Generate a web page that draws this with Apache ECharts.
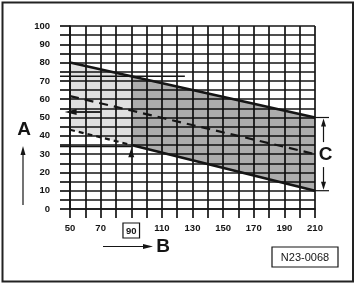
<!DOCTYPE html>
<html><head><meta charset="utf-8">
<script src="https://cdn.jsdelivr.net/npm/echarts@6/dist/echarts.min.js"></script>
<style>html,body{margin:0;padding:0;background:#fff}#c{width:357px;height:283px}</style>
</head><body><div id="c"></div>
<script>
// ---- data ----
const bValues = [50, 90, 210];          // B (x) break points
const upperA  = [80, 72.5, 50];         // upper limit of A
const middleA = [61.7, 53.8, 30];       // mean line (dashed)
const lowerA  = [43.3, 35, 10];         // lower limit of A
const xTickLabels = [50, 70, 90, 110, 130, 150, 170, 190, 210];
const yTickLabels = [0, 10, 20, 30, 40, 50, 60, 70, 80, 90, 100];
const highlightB = 90;                  // boxed reading on B
const readingA = 53;                    // arrow reading on A
const readingLineUpperA = 72.5;
const readingLineLowerA = 34.2;
const chartCode = 'N23-0068';

const INK = '#151515';
const FONT = '"Liberation Sans", Arial, sans-serif';

const chart = echarts.init(document.getElementById('c'), null, {renderer: 'canvas'});

function regionItem(params, api) {
  const i = params.dataIndex;
  const pts = [];
  pts.push(api.coord([bValues[i], upperA[i]]));
  pts.push(api.coord([bValues[i + 1], upperA[i + 1]]));
  pts.push(api.coord([bValues[i + 1], lowerA[i + 1]]));
  pts.push(api.coord([bValues[i], lowerA[i]]));
  const fills = ['rgba(0,0,0,0.12)', 'rgba(0,0,0,0.32)'];
  return {type: 'polygon', shape: {points: pts}, style: {fill: fills[i], stroke: null}};
}

function annotationItem(params, api) {
  const c = (x, y) => api.coord([x, y]);
  const kids = [];
  const ln = (p1, p2, w) => kids.push({type: 'line', shape: {x1: p1[0], y1: p1[1], x2: p2[0], y2: p2[1]}, style: {stroke: INK, lineWidth: w || 1.6}});
  const tri = (pts) => kids.push({type: 'polygon', shape: {points: pts}, style: {fill: INK}});
  const x0 = c(50, 0)[0];
  // reading lines
  const ru = c(125, readingLineUpperA);
  ln([x0 - 10, ru[1]], ru, 1.5);
  const rl = c(highlightB, readingLineLowerA);
  ln([x0 - 10, rl[1]], rl, 1.5);
  // left arrow at reading A
  const aTip = c(46.5, readingA), aEnd = c(70, readingA);
  ln([aTip[0] + 8, aTip[1]], aEnd, 1.8);
  tri([[aTip[0], aTip[1]], [aTip[0] + 12, aTip[1] - 3], [aTip[0] + 12, aTip[1] + 3]]);
  // up arrow at B reading
  const uTip = c(highlightB, 33.2);
  tri([[uTip[0], uTip[1]], [uTip[0] - 3, uTip[1] + 9], [uTip[0] + 3, uTip[1] + 9]]);
  // C dimension at right edge
  const cTop = c(bValues[2], upperA[2]), cBot = c(bValues[2], lowerA[2]);
  const cx = cTop[0] + 8.5;
  ln([cTop[0] - 2, cTop[1]], [cTop[0] + 14, cTop[1]], 1.2);
  ln([cBot[0] - 2, cBot[1]], [cBot[0] + 14, cBot[1]], 1.2);
  const mid = (cTop[1] + cBot[1]) / 2;
  ln([cx, cTop[1] + 6], [cx, mid - 12], 1.2);
  ln([cx, mid + 13], [cx, cBot[1] - 6], 1.2);
  tri([[cx, cTop[1] + 1], [cx - 2.5, cTop[1] + 9], [cx + 2.5, cTop[1] + 9]]);
  tri([[cx, cBot[1] - 1], [cx - 2.5, cBot[1] - 9], [cx + 2.5, cBot[1] - 9]]);
  kids.push({type: 'text', style: {text: 'C', x: cx + 2, y: mid + 1, align: 'center', verticalAlign: 'middle', font: 'bold 19px ' + FONT, fill: INK}});
  return {type: 'group', children: kids};
}

const pairs = (ys, from, to) => bValues.slice(from, to).map((b, k) => [b, ys[from + k]]);

const option = {
  backgroundColor: '#fff',
  animation: false,
  grid: {left: 70, right: 42, top: 26, bottom: 74, containLabel: false},
  xAxis: {
    type: 'value', min: 50, max: 210, interval: 10,
    axisLine: {show: true, lineStyle: {color: INK, width: 1.7}},
    axisTick: {show: true, length: 9, inside: false, lineStyle: {color: INK, width: 1.7}},
    splitLine: {show: true, lineStyle: {color: INK, width: 1.7}},
    axisLabel: {
      show: true, interval: 0, margin: 14, color: INK, fontSize: 9.5, fontWeight: 'bold', fontFamily: FONT,
      formatter: v => xTickLabels.includes(v) ? (v === highlightB ? '{box|' + v + '}' : String(v)) : '',
      rich: {box: {borderColor: INK, borderWidth: 1.2, padding: [3, 3, 2, 3], fontSize: 9.5, fontWeight: 'bold', fontFamily: FONT, color: INK}}
    }
  },
  yAxis: {
    type: 'value', min: 0, max: 100, interval: 5,
    axisLine: {show: true, lineStyle: {color: INK, width: 1.7}},
    axisTick: {show: true, length: 10, inside: false, lineStyle: {color: INK, width: 1.7}},
    splitLine: {show: true, lineStyle: {color: INK, width: 1.7}},
    axisLabel: {
      show: true, interval: 0, margin: 20, color: INK, fontSize: 9.5, fontWeight: 'bold', fontFamily: FONT,
      formatter: v => yTickLabels.includes(v) ? String(v) : ''
    }
  },
  series: [
    {type: 'custom', name: 'regions', renderItem: regionItem, data: [[bValues[0], upperA[0]], [bValues[1], upperA[1]]], silent: true, clip: false, z: 1},
    {type: 'line', name: 'upper', data: pairs(upperA, 0, 3), symbol: 'none', lineStyle: {color: INK, width: 2.6}, silent: true, z: 3},
    {type: 'line', name: 'middle', data: pairs(middleA, 0, 3), symbol: 'none', lineStyle: {color: INK, width: 2.2, type: [9, 6]}, silent: true, z: 3},
    {type: 'line', name: 'lowerDashed', data: pairs(lowerA, 0, 2), symbol: 'none', lineStyle: {color: INK, width: 2.2, type: [5, 4]}, silent: true, z: 3},
    {type: 'line', name: 'lower', data: pairs(lowerA, 1, 3), symbol: 'none', lineStyle: {color: INK, width: 2.6}, silent: true, z: 3},
    {type: 'custom', name: 'annotations', renderItem: annotationItem, data: [[highlightB, readingA]], silent: true, clip: false, z: 4}
  ],
  graphic: [
    {type: 'rect', shape: {x: 2.5, y: 2.5, width: 350.5, height: 279}, style: {fill: 'none', stroke: '#222', lineWidth: 2}, silent: true},
    {type: 'text', style: {text: 'A', x: 24, y: 130, align: 'center', verticalAlign: 'middle', font: 'bold 19px ' + FONT, fill: INK}},
    {type: 'line', shape: {x1: 23, y1: 205, x2: 23, y2: 152}, style: {stroke: INK, lineWidth: 1.2}},
    {type: 'polygon', shape: {points: [[23, 146], [20.5, 155], [25.5, 155]]}, style: {fill: INK}},
    {type: 'text', style: {text: 'B', x: 163, y: 247, align: 'center', verticalAlign: 'middle', font: 'bold 19px ' + FONT, fill: INK}},
    {type: 'line', shape: {x1: 103, y1: 246.5, x2: 146, y2: 246.5}, style: {stroke: INK, lineWidth: 1.2}},
    {type: 'polygon', shape: {points: [[153, 246.5], [143, 244], [143, 249]]}, style: {fill: INK}},
    {type: 'rect', shape: {x: 272, y: 247, width: 66, height: 20}, style: {fill: '#fff', stroke: INK, lineWidth: 1.2}},
    {type: 'text', style: {text: chartCode, x: 305, y: 257.5, align: 'center', verticalAlign: 'middle', font: '11px ' + FONT, fill: INK}}
  ]
};
chart.setOption(option);
</script>
</body></html>
